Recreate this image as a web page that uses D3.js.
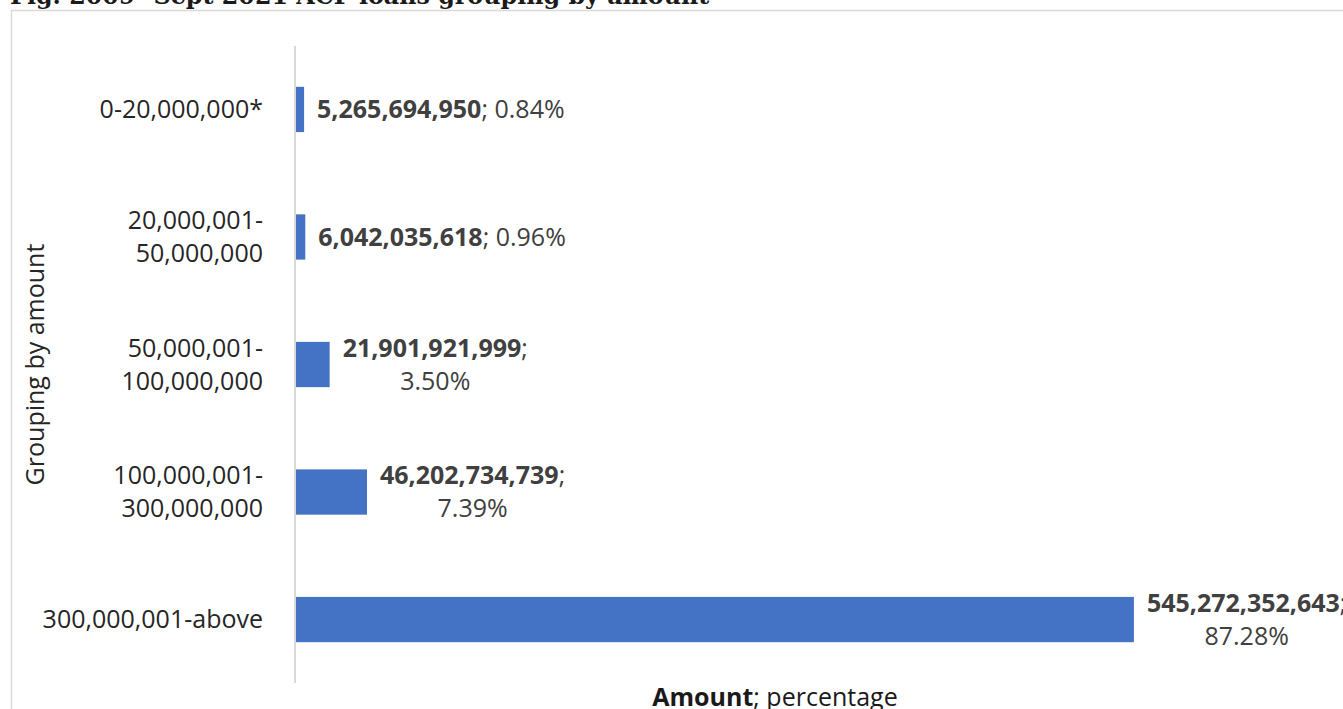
<!DOCTYPE html>
<html>
<head>
<meta charset="utf-8">
<script src="https://cdn.jsdelivr.net/npm/d3@7"></script>
<style>
  body { margin: 0; background: #fff; }
  svg { display: block; }
  text { font-family: 'Open Sans', sans-serif; }
</style>
</head>
<body>
<div id="chart"></div>
<script>
// data
var categories = [ '0-20,000,000*', '20,000,001-50,000,000', '50,000,001-100,000,000', '100,000,001-300,000,000', '300,000,001-above' ];
var categoryLines = [ [ '0-20,000,000*' ], [ '20,000,001-', '50,000,000' ], [ '50,000,001-', '100,000,000' ], [ '100,000,001-', '300,000,000' ], [ '300,000,001-above' ] ];
var amounts = [ 5265694950, 6042035618, 21901921999, 46202734739, 545272352643 ];
var percents = [ '0.84%', '0.96%', '3.50%', '7.39%', '87.28%' ];

var chartTitle = 'Fig. 2009- Sept 2021 ACF loans grouping by amount';

var width = 1343, height = 709;
var margin = { top: 46, right: 0, bottom: 26, left: 296 };

var svg = d3.select( '#chart' ).append( 'svg' )
  .attr( 'width', width )
  .attr( 'height', height );

// chart area border (runs past the picture on right / bottom)
svg.append( 'rect' )
  .attr( 'x', 11.5 ).attr( 'y', 10.5 )
  .attr( 'width', 1400 ).attr( 'height', 800 )
  .attr( 'fill', 'none' )
  .attr( 'stroke', '#d9d9d9' )
  .attr( 'stroke-width', 1.5 );

svg.append( 'text' )
  .attr( 'x', 10 ).attr( 'y', 4 )
  .style( 'font-family', "'DejaVu Serif', serif" )
  .style( 'font-weight', 'bold' )
  .style( 'font-size', '23.8px' )
  .attr( 'fill', '#1a1a1a' )
  .text( chartTitle );

var xScale = d3.scaleLinear()
  .domain( [ 0, 600e9 ] )
  .range( [ margin.left, margin.left + 922 ] );

var yScale = d3.scaleBand()
  .domain( categories )
  .range( [ margin.top, height - margin.bottom ] )
  .paddingInner( 0.645 )
  .paddingOuter( 0.32 );

// vertical axis line
svg.append( 'line' )
  .attr( 'x1', 295 ).attr( 'x2', 295 )
  .attr( 'y1', margin.top ).attr( 'y2', height - margin.bottom )
  .attr( 'stroke', '#d9d9d9' )
  .attr( 'stroke-width', 2 );

var g = svg.append( 'g' );

g.selectAll( '.bar' )
  .data( categories )
  .enter()
  .append( 'rect' )
    .attr( 'class', 'bar' )
    .attr( 'x', xScale( 0 ) )
    .attr( 'y', d => yScale( d ) )
    .attr( 'width', ( d, i ) => xScale( amounts[ i ] ) - xScale( 0 ) )
    .attr( 'height', yScale.bandwidth() )
    .attr( 'fill', '#4472c4' );

// category labels
var fmt = d3.format( ',' );
var labelSize = 25, lineGap = 33;

categories.forEach( function( c, i ) {
  var cy = yScale( c ) + yScale.bandwidth() / 2;
  var lines = categoryLines[ i ];
  var t = svg.append( 'text' )
    .attr( 'text-anchor', 'end' )
    .attr( 'fill', '#262626' )
    .style( 'font-size', labelSize + 'px' );
  lines.forEach( function( l, k ) {
    t.append( 'tspan' )
      .attr( 'x', 263 )
      .attr( 'y', cy + ( k - ( lines.length - 1 ) / 2 ) * lineGap )
      .attr( 'dy', '0.35em' )
      .text( l );
  } );
} );

// data labels
categories.forEach( function( c, i ) {
  var cy = yScale( c ) + yScale.bandwidth() / 2;
  var x0 = xScale( amounts[ i ] ) + 13;
  var wrap = xScale( amounts[ i ] ) - xScale( 0 ) > 20;
  var t = svg.append( 'text' )
    .attr( 'fill', '#404040' )
    .style( 'font-size', labelSize + 'px' );
  if( !wrap ) {
    t.attr( 'x', x0 ).attr( 'y', cy ).attr( 'dy', '0.35em' );
    t.append( 'tspan' ).style( 'font-weight', 'bold' ).text( fmt( amounts[ i ] ) );
    t.append( 'tspan' ).text( '; ' + percents[ i ] );
  } else {
    var l1 = t.append( 'tspan' ).attr( 'y', cy - lineGap / 2 ).attr( 'dy', '0.35em' );
    l1.append( 'tspan' ).style( 'font-weight', 'bold' ).text( fmt( amounts[ i ] ) );
    l1.append( 'tspan' ).text( ';' );
    var w = t.node().getComputedTextLength();
    var cx = x0 + w / 2;
    t.attr( 'text-anchor', 'middle' );
    l1.attr( 'x', cx );
    t.append( 'tspan' )
      .attr( 'x', cx )
      .attr( 'y', cy + lineGap / 2 )
      .attr( 'dy', '0.35em' )
      .text( percents[ i ] );
  }
} );

// axis titles
var xt = svg.append( 'text' )
  .attr( 'x', 775 ).attr( 'y', 697 )
  .attr( 'dy', '0.35em' )
  .attr( 'text-anchor', 'middle' )
  .attr( 'fill', '#1a1a1a' )
  .style( 'font-size', labelSize + 'px' );
xt.append( 'tspan' ).style( 'font-weight', 'bold' ).text( 'Amount' );
xt.append( 'tspan' ).text( '; percentage' );

svg.append( 'text' )
  .attr( 'transform', 'translate(35,' + ( ( margin.top + height - margin.bottom ) / 2 ) + ') rotate(-90)' )
  .attr( 'dy', '0.35em' )
  .attr( 'text-anchor', 'middle' )
  .attr( 'fill', '#262626' )
  .style( 'font-size', labelSize + 'px' )
  .text( 'Grouping by amount' );
</script>
</body>
</html>
